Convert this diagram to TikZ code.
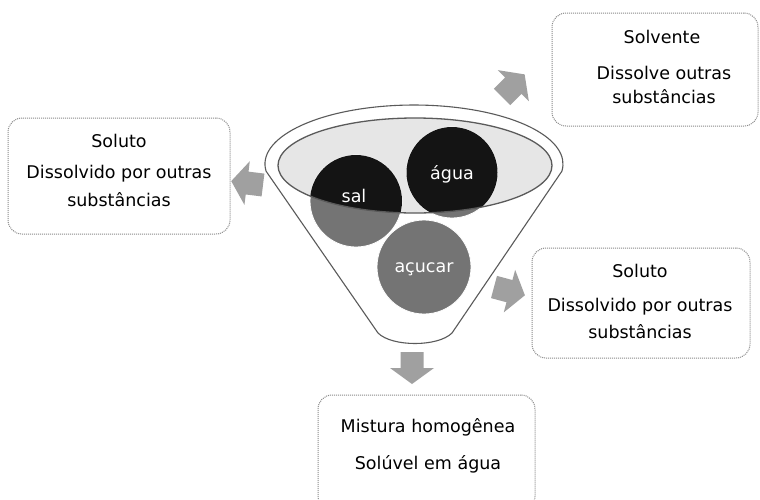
\documentclass[tikz,border=0pt]{standalone}
\usepackage{fontspec}
\setmainfont{DejaVu Sans}
\definecolor{arrowgray}{HTML}{A0A0A0}
\definecolor{circgray}{HTML}{747474}
\definecolor{circdark}{HTML}{141414}
\definecolor{ellfill}{HTML}{E6E6E6}
\definecolor{funline}{HTML}{5A5A5A}
\definecolor{boxgray}{HTML}{8A8A8A}
\begin{document}
\begin{tikzpicture}[x=1pt,y=1pt,
  box/.style={draw=boxgray, line width=1pt, dash pattern=on 1pt off 1pt, rounded corners=14pt, inner sep=0pt},
  boxtext/.style={font=\fontsize{17.5}{20}\selectfont, text=black, inner sep=0pt},
  circtext/.style={font=\fontsize{17.5}{20}\selectfont, text=white, inner sep=0pt},
  ball/.style={circle, fill=circgray, draw=white, line width=0.8pt, inner sep=0pt, minimum size=#1},
  funnelline/.style={draw=funline, line width=1.1pt},
  blockarrow/.pic={\fill[arrowgray] (0,-11.5) -- (16,-11.5) -- (16,-22) -- (32,0) -- (16,22) -- (16,11.5) -- (0,11.5) -- cycle;}
]
\clip (0,0) rectangle (760,-499);
\fill[white] (0,0) rectangle (760,-499);

% boxes
\node[box, minimum width=222pt, minimum height=116pt] (lbox) at (119,-176) {};
\node[box, minimum width=206pt, minimum height=113pt] (tbox) at (655,-69.5) {};
\node[box, minimum width=218pt, minimum height=110pt] (rbox) at (641,-303) {};
\node[box, minimum width=217pt, minimum height=115pt] (bbox) at (426.5,-452.5) {};

% box texts
\node[boxtext] (l1) at (119,-141) {Soluto};
\node[boxtext] (l2) at (119,-174) {Dissolvido por outras};
\node[boxtext] (l3) at (119,-200) {substâncias};
\node[boxtext] (t1) at (662,-37) {Solvente};
\node[boxtext] (t2) at (664,-73) {Dissolve outras};
\node[boxtext] (t3) at (664,-97) {substâncias};
\node[boxtext] (r1) at (640,-271) {Soluto};
\node[boxtext] (r2) at (640,-307) {Dissolvido por outras};
\node[boxtext] (r3) at (640,-332) {substâncias};
\node[boxtext] (b1) at (428,-427) {Mistura homogênea};
\node[boxtext] (b2) at (428,-464) {Solúvel em água};

% funnel outline
\draw[funnelline] (378,-333) -- (266.1,-171.2)
  arc[start angle=187, end angle=-7, x radius=149, y radius=59]
  -- (452,-333) .. controls (438,-347) and (392,-347) .. cycle;

% inner ellipse fill
\fill[ellfill] (415,-165.5) ellipse[x radius=137, y radius=47.5];

% balls
\node[ball=92pt] (sal) at (356,-201) {};
\node[ball=91pt] (agua) at (452,-172.5) {};
\node[ball=94pt] (acucar) at (424,-267) {};

\begin{scope}
  \clip (415,-165.5) ellipse[x radius=137, y radius=47.5];
  \fill[circdark] (sal.center) circle[radius=46];
  \fill[circdark] (agua.center) circle[radius=45.5];
\end{scope}
\draw[funline, line width=1.3pt] (415,-165.5) ellipse[x radius=137, y radius=47.5];

\node[circtext] (saltxt) at (354,-196) {sal};
\node[circtext] (aguatxt) at (452,-174) {água};
\node[circtext] (acucartxt) at (424,-269) {açucar};

% block arrows
\pic[rotate=173] at (263,-185) {blockarrow};
\pic[rotate=45] at (502,-97) {blockarrow};
\pic[rotate=-15] at (494,-287) {blockarrow};
\pic[rotate=-90] at (412,-352) {blockarrow};
\end{tikzpicture}
\end{document}
